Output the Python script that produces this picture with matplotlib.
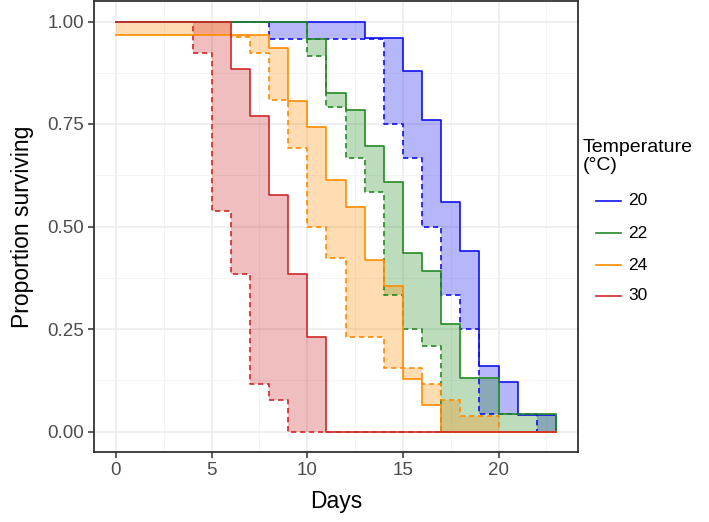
import numpy as np
import matplotlib
matplotlib.use("Agg")
import matplotlib.pyplot as plt
from matplotlib.lines import Line2D

plt.rcParams['font.family'] = ['Liberation Sans', 'DejaVu Sans']

# ---- data (Kaplan-Meier style step curves; solid = one group, dashed = other) ----
temps = ["20", "22", "24", "30"]
colors = ["#1010F0", "#228B22", "#FF8C00", "#D02828"]

t20_solid = [0, 13, 15, 16, 17, 18, 19, 20, 21, 23]
s20_solid = [1.0, 0.96, 0.88, 0.76, 0.56, 0.44, 0.16, 0.12, 0.04, 0.0]
t20_dash = [0, 8, 14, 15, 16, 17, 18, 19, 22, 23]
s20_dash = [1.0, 0.958, 0.75, 0.667, 0.5, 0.333, 0.25, 0.042, 0.0, 0.0]

t22_solid = [0, 10, 11, 12, 13, 14, 15, 16, 17, 18, 20, 23]
s22_solid = [1.0, 0.957, 0.826, 0.783, 0.696, 0.609, 0.435, 0.391, 0.261, 0.130, 0.043, 0.0]
t22_dash = [0, 10, 11, 12, 13, 14, 15, 16, 17, 23]
s22_dash = [1.0, 0.917, 0.792, 0.667, 0.583, 0.333, 0.25, 0.208, 0.0, 0.0]

t24_solid = [0, 8, 9, 10, 11, 12, 13, 14, 15, 16, 17, 23]
s24_solid = [0.968, 0.935, 0.806, 0.742, 0.613, 0.548, 0.419, 0.355, 0.129, 0.065, 0.0, 0.0]
t24_dash = [0, 6, 7, 8, 9, 10, 11, 12, 14, 16, 17, 18, 20, 23]
s24_dash = [1.0, 0.962, 0.923, 0.808, 0.692, 0.5, 0.423, 0.231, 0.154, 0.115, 0.077, 0.038, 0.0, 0.0]

t30_solid = [0, 6, 7, 8, 9, 10, 11, 23]
s30_solid = [1.0, 0.885, 0.769, 0.577, 0.385, 0.231, 0.0, 0.0]
t30_dash = [0, 4, 5, 6, 7, 8, 9, 23]
s30_dash = [1.0, 0.923, 0.538, 0.385, 0.115, 0.077, 0.0, 0.0]

x_ticks = [0, 5, 10, 15, 20]
y_ticks = [0.0, 0.25, 0.5, 0.75, 1.0]
y_ticklabels = ["0.00", "0.25", "0.50", "0.75", "1.00"]

series = [
    (t20_solid, s20_solid, t20_dash, s20_dash),
    (t22_solid, s22_solid, t22_dash, s22_dash),
    (t24_solid, s24_solid, t24_dash, s24_dash),
    (t30_solid, s30_solid, t30_dash, s30_dash),
]


def step_eval(t, s, grid):
    idx = np.searchsorted(np.asarray(t, float), grid, side='right') - 1
    return np.asarray(s, float)[idx]


W, H = 709, 522
fig = plt.figure(figsize=(W / 100, H / 100), dpi=100)
ax = fig.add_axes([94 / W, (H - 452) / H, 484 / W, 451 / H])

# grid
ax.set_xticks(x_ticks)
ax.set_xticks([2.5, 7.5, 12.5, 17.5, 22.5], minor=True)
ax.set_yticks(y_ticks)
ax.set_yticklabels(y_ticklabels)
ax.set_yticks([0.125, 0.375, 0.625, 0.875], minor=True)
ax.grid(which='major', color='#EBEBEB', lw=1.1, zorder=0)
ax.grid(which='minor', color='#F2F2F2', lw=0.6, zorder=0)
ax.set_axisbelow(True)

# fills
for (ts, ss, td, sd), c in zip(series, colors):
    grid = np.union1d(ts, td)
    a = step_eval(ts, ss, grid)
    b = step_eval(td, sd, grid)
    ax.fill_between(grid, a, b, step='post', color=c, alpha=0.3, lw=0, zorder=1)

# lines
for (ts, ss, td, sd), c in zip(series, colors):
    ax.step(td, sd, where='post', color=c, lw=1.2, ls=(0, (3.2, 2.2)), zorder=2)
    ax.step(ts, ss, where='post', color=c, lw=1.2, zorder=3)

ax.set_xlim(-1.15, 24.15)
ax.set_ylim(-0.05, 1.05)

for sp in ax.spines.values():
    sp.set_color('#333333')
    sp.set_linewidth(1.3)
ax.tick_params(which='major', length=4, width=1.1, color='#333333',
               labelsize=13.5, labelcolor='#4D4D4D', pad=3)
ax.tick_params(which='minor', length=0)

ax.set_xlabel("Days", fontsize=16.5, color='black', labelpad=8)
ax.set_ylabel("Proportion surviving", fontsize=16.5, color='black', labelpad=10)

# legend (manual)
fig.text(583 / W, 1 - 139 / H, "Temperature\n(°C)", fontsize=14, va='top', ha='left',
         linespacing=1.05)
leg_y = [201, 233, 265, 296]
for lab, c, yy in zip(temps, colors, leg_y):
    fig.add_artist(Line2D([596 / W, 621 / W], [1 - yy / H, 1 - yy / H], color=c, lw=1.2))
    fig.text(628 / W, 1 - yy / H, lab, fontsize=12.5, va='center', ha='left')

fig.savefig("out.png", dpi=100)
